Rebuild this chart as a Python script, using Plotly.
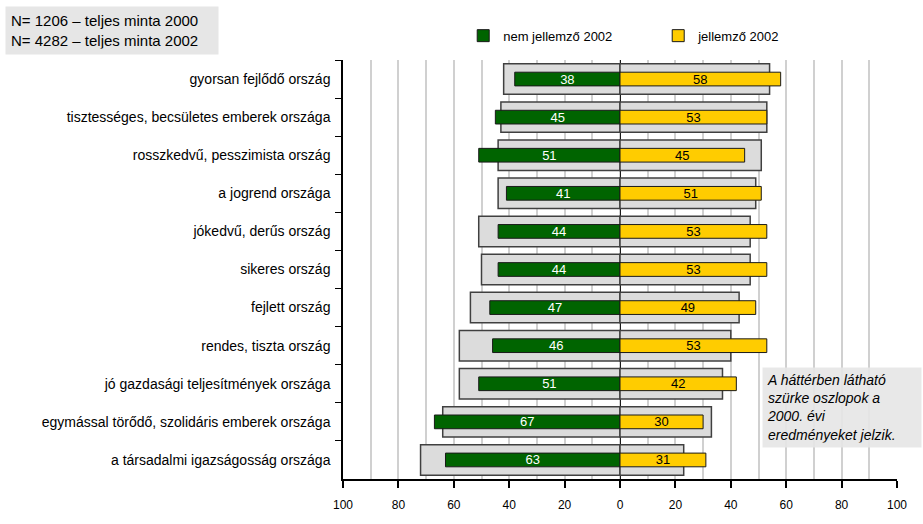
import plotly.graph_objects as go

categories = [
    "gyorsan fejlődő ország",
    "tisztességes, becsületes emberek országa",
    "rosszkedvű, pesszimista ország",
    "a jogrend országa",
    "jókedvű, derűs ország",
    "sikeres ország",
    "fejlett ország",
    "rendes, tiszta ország",
    "jó gazdasági teljesítmények országa",
    "egymással törődő, szolidáris emberek országa",
    "a társadalmi igazságosság országa",
]
nem_2002 = [38, 45, 51, 41, 44, 44, 47, 46, 51, 67, 63]
jell_2002 = [58, 53, 45, 51, 53, 53, 49, 53, 42, 30, 31]
nem_2000 = [42, 43, 44, 44, 51, 50, 54, 58, 58, 64, 72]
jell_2000 = [54, 53, 51, 49, 47, 47, 43, 40, 37, 33, 23]

tick_vals = [-100, -80, -60, -40, -20, 0, 20, 40, 60, 80, 100]
tick_text = [str(abs(v)) for v in tick_vals]

FONT = "Liberation Sans, Arial, sans-serif"
GREEN = "#006400"
YELLOW = "#ffcc00"
GREY = "#dcdcdc"

fig = go.Figure()

# background 2000 bars
fig.add_trace(go.Bar(
    y=categories, x=[-v for v in nem_2000], orientation="h", width=0.8,
    marker=dict(color=GREY, line=dict(color="#404040", width=1.5)),
    showlegend=False, hoverinfo="skip",
))
fig.add_trace(go.Bar(
    y=categories, x=jell_2000, orientation="h", width=0.8,
    marker=dict(color=GREY, line=dict(color="#404040", width=1.5)),
    showlegend=False, hoverinfo="skip",
))

# 2002 bars
fig.add_trace(go.Bar(
    y=categories, x=[-v for v in nem_2002], orientation="h", width=0.36,
    name="nem jellemző 2002",
    marker=dict(color=GREEN, line=dict(color="#1a1a1a", width=1)),
    text=[str(v) for v in nem_2002], textposition="inside",
    insidetextanchor="middle", textangle=0,
    textfont=dict(color="white", size=13, family=FONT),
))
fig.add_trace(go.Bar(
    y=categories, x=jell_2002, orientation="h", width=0.36,
    name="jellemző 2002",
    marker=dict(color=YELLOW, line=dict(color="#1a1a1a", width=1)),
    text=[str(v) for v in jell_2002], textposition="inside",
    insidetextanchor="middle", textangle=0,
    textfont=dict(color="black", size=13, family=FONT),
))

fig.update_layout(
    width=923, height=524,
    barmode="overlay",
    plot_bgcolor="white", paper_bgcolor="white",
    margin=dict(l=343, r=26, t=60, b=34),
    font=dict(family=FONT, size=12, color="black"),
    uniformtext=dict(mode="show", minsize=12),
    legend=dict(
        orientation="h", x=0.217, xanchor="left", y=1.058, yanchor="middle",
        font=dict(size=13), entrywidth=150, itemwidth=30,
        bgcolor="rgba(0,0,0,0)",
    ),
)

fig.update_xaxes(
    range=[-100, 100], tickmode="array", tickvals=tick_vals, ticktext=tick_text,
    showgrid=True, gridcolor="#d0d0d0", gridwidth=2,
    minor=dict(tickmode="linear", tick0=0, dtick=10, showgrid=True,
               gridcolor="#d0d0d0", gridwidth=2, ticks=""),
    zeroline=True, zerolinecolor="#1a1a1a", zerolinewidth=1,
    showline=True, linecolor="black", linewidth=1.5,
    ticks="outside", ticklen=7, tickcolor="black", tickwidth=1.5,
    tickfont=dict(size=12), ticklabelstandoff=7,
)
fig.update_yaxes(
    categoryorder="array", categoryarray=categories, autorange="reversed",
    showline=True, linecolor="black", linewidth=1.5,
    ticks="outside", ticklen=6, tickcolor="black", tickson="boundaries",
    showgrid=False, tickfont=dict(size=14), ticklabelstandoff=8,
    automargin=False,
)

fig.add_annotation(
    xref="paper", yref="paper", x=-0.61, y=1.128, xanchor="left", yanchor="top",
    text="N= 1206 – teljes minta 2000<br>N= 4282 – teljes minta 2002",
    showarrow=False, align="left", width=202,
    font=dict(size=15, color="black"),
    bgcolor="#e6e6e6", borderpad=5,
)
fig.add_annotation(
    xref="paper", yref="paper", x=0.756, y=0.267, xanchor="left", yanchor="top",
    text="<i>A háttérben látható<br>szürke oszlopok a<br>2000. évi<br>eredményeket jelzik.</i>",
    showarrow=False, align="left", width=150,
    font=dict(size=14, color="black"),
    bgcolor="rgba(230,230,230,0.9)", borderpad=4,
)

# drop the default page margin so the figure sits at the window corner
fig.write_html(
    "out.html",
    config={"displayModeBar": False},
    post_script="document.body.style.margin='0';document.body.style.overflow='hidden';",
)
